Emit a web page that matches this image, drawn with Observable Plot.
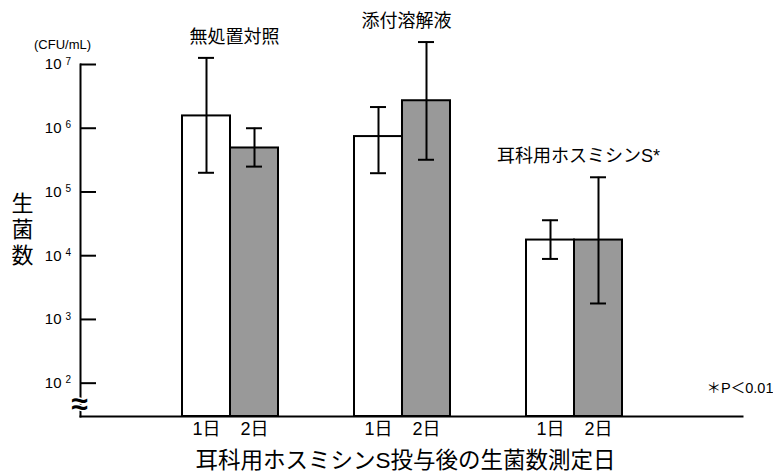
<!DOCTYPE html>
<html>
<head>
<meta charset="utf-8">
<script src="https://cdn.jsdelivr.net/npm/d3@7"></script>
<script src="https://cdn.jsdelivr.net/npm/@observablehq/plot@0.6"></script>
<style>
  body { margin: 0; background: #fff; }
  #chart svg { display: block; }
</style>
</head>
<body>
<div id="chart"></div>
<script>
// ---- data ----
const groups = ["無処置対照", "添付溶解液", "耳科用ホスミシンS*"];
const days = ["1日", "2日"];
const day1Mean = [1.56e6, 7.4e5, 1.76e4];
const day1Low  = [2.0e5, 1.97e5, 8.9e3];
const day1High = [1.27e7, 2.15e6, 3.6e4];
const day2Mean = [4.9e5, 2.7e6, 1.76e4];
const day2Low  = [2.5e5, 3.2e5, 1.78e3];
const day2High = [1.0e6, 2.25e7, 1.7e5];
const yTicks = [1e2, 1e3, 1e4, 1e5, 1e6, 1e7];
const yDomain = [30, 1e7];
const yUnit = "(CFU/mL)";
const yTitle = "生\n菌\n数";
const xTitle = "耳科用ホスミシンS投与後の生菌数測定日";
const note = "＊P＜0.01";
const breakMark = "≈";
const dayFills = ["#ffffff", "#999999"];

// ---- build rows ----
const series = [
  {day: days[0], mean: day1Mean, low: day1Low, high: day1High},
  {day: days[1], mean: day2Mean, low: day2Low, high: day2High}
];
const rows = series.flatMap((s, i) => groups.map((g, j) => ({
  group: g, day: s.day, dayIndex: i, mean: s.mean[j], low: s.low[j], high: s.high[j]
})));
const labelRows = groups.map(g => ({
  group: g, top: d3.max(rows.filter(r => r.group === g), r => r.high)
}));

const barW = 48;      // px, half of each group's band
const capInset = 40;  // px, leaves a 16px cap
const font = "'Liberation Sans', Arial, 'Noto Sans CJK JP', sans-serif";

const marks = [];
// bars
days.forEach((day, i) => {
  const data = rows.filter(r => r.dayIndex === i);
  marks.push(Plot.barY(data, {
    x: "group", y1: yDomain[0], y2: "mean",
    fill: dayFills[i], stroke: "black", strokeWidth: 2,
    insetLeft: i === 0 ? 0 : barW, insetRight: i === 0 ? barW : 0
  }));
});
// error bars
days.forEach((day, i) => {
  const data = rows.filter(r => r.dayIndex === i);
  const off = (i - 0.5) * barW;
  marks.push(Plot.ruleX(data, {x: "group", y1: "low", y2: "high", dx: off, stroke: "black", strokeWidth: 2}));
  marks.push(Plot.tickY(data, {x: "group", y: "low", dx: off, insetLeft: capInset, insetRight: capInset, stroke: "black", strokeWidth: 2}));
  marks.push(Plot.tickY(data, {x: "group", y: "high", dx: off, insetLeft: capInset, insetRight: capInset, stroke: "black", strokeWidth: 2}));
  // day labels under bars
  marks.push(Plot.text(groups, {x: d => d, text: () => day, frameAnchor: "bottom", lineAnchor: "middle", textAnchor: "middle", dx: off, dy: 13, fontSize: 18}));
});
// group labels
marks.push(Plot.text(labelRows, {x: "group", y: "top", text: "group", textAnchor: "middle", lineAnchor: "middle", dy: -21, dx: 4, fontSize: 18}));
// axes
marks.push(Plot.frame({anchor: "left", stroke: "black", strokeWidth: 2}));
marks.push(Plot.frame({anchor: "bottom", stroke: "black", strokeWidth: 2}));
marks.push(Plot.axisY({ticks: yTicks, tickSize: 16, dx: 16, tickFormat: () => "", label: null, stroke: "black", strokeWidth: 2}));
marks.push(Plot.text(yTicks, {y: d => d, frameAnchor: "left", text: () => "10", textAnchor: "end", lineAnchor: "middle", dx: -19, fontSize: 15}));
marks.push(Plot.text(yTicks, {y: d => d, frameAnchor: "left", text: d => String(Math.round(Math.log10(d))), textAnchor: "start", lineAnchor: "middle", dx: -15, dy: -3, fontSize: 10}));
// titles and notes
marks.push(Plot.text([yUnit], {text: d => d, frameAnchor: "top-left", textAnchor: "middle", lineAnchor: "middle", dx: -18, dy: -20, fontSize: 13}));
marks.push(Plot.text([yTitle], {text: d => d, frameAnchor: "left", textAnchor: "middle", lineAnchor: "middle", dx: -58, dy: -12, fontSize: 22, lineHeight: 1.2}));
marks.push(Plot.text([xTitle], {text: d => d, frameAnchor: "bottom", textAnchor: "middle", lineAnchor: "middle", dx: -6, dy: 44, fontSize: 22.5}));
marks.push(Plot.text([note], {text: d => d, frameAnchor: "bottom-right", textAnchor: "end", lineAnchor: "middle", dx: 31, dy: -28, fontSize: 14.5}));
marks.push(Plot.text([breakMark], {text: d => d, frameAnchor: "bottom-left", textAnchor: "middle", lineAnchor: "middle", dx: -1, dy: -12, fontSize: 30, fontWeight: "bold", fill: "black", stroke: "white", strokeWidth: 3, paintOrder: "stroke"}));

const chart = Plot.plot({
  width: 773,
  height: 473,
  marginLeft: 80,
  marginRight: 31,
  marginTop: 64,
  marginBottom: 57,
  style: {fontFamily: font, background: "#fff", color: "#000", overflow: "visible"},
  x: {type: "band", domain: groups, paddingInner: 0.442, paddingOuter: 0.645, align: 0.459, axis: null},
  y: {type: "log", domain: yDomain, axis: null, label: null},
  marks
});
document.getElementById("chart").appendChild(chart);
</script>
</body>
</html>
